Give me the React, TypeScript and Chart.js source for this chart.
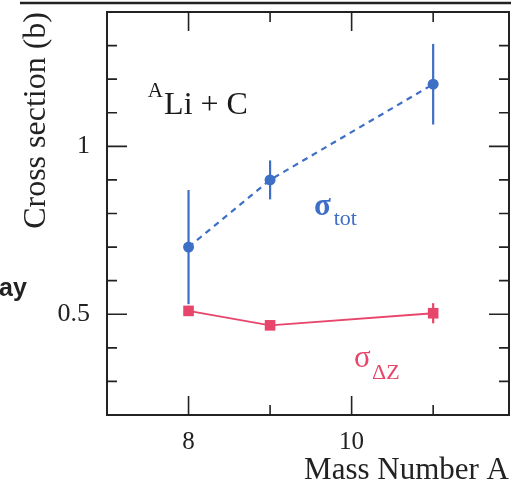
import React, { useEffect, useRef } from 'react';
import { Chart, registerables } from 'chart.js';

Chart.register(...registerables);

// ---- data ----
const massNumbers = [8, 9, 11];
const sigmaTot = [0.7, 0.9, 1.185];
const sigmaTotErr = [0.17, 0.058, 0.12];
const sigmaDZ = [0.51, 0.467, 0.503];
const sigmaDZErr = [0.015, 0.012, 0.03];
const xTickLabels = [8, 10];
const xMinorTicks = [9, 11];
const yTickLabels = [0.5, 1];
const yMinorTicks = [0.3, 0.4, 0.6, 0.7, 0.8, 0.9, 1.1, 1.2, 1.3];

const BLUE = '#3d6fc6';
const RED = '#e8456a';
const INK = '#222222';
const SERIF = '"Liberation Serif", "DejaVu Serif", serif';

const framePlugin = {
  id: 'frameAndTicks',
  afterDraw(chart: any) {
    const { ctx, chartArea: a, scales } = chart;
    const xs = scales.x;
    const ys = scales.y;
    ctx.save();
    ctx.strokeStyle = INK;
    ctx.lineWidth = 2;
    ctx.strokeRect(a.left, a.top, a.right - a.left, a.bottom - a.top);
    ctx.lineWidth = 1.6;
    const vt = (v: number, len: number) => {
      const px = xs.getPixelForValue(v);
      ctx.beginPath();
      ctx.moveTo(px, a.bottom);
      ctx.lineTo(px, a.bottom - len);
      ctx.moveTo(px, a.top);
      ctx.lineTo(px, a.top + len);
      ctx.stroke();
    };
    const ht = (v: number, len: number) => {
      const py = ys.getPixelForValue(v);
      ctx.beginPath();
      ctx.moveTo(a.left, py);
      ctx.lineTo(a.left + len, py);
      ctx.moveTo(a.right, py);
      ctx.lineTo(a.right - len, py);
      ctx.stroke();
    };
    xTickLabels.forEach((v) => vt(v, 19));
    xMinorTicks.forEach((v) => vt(v, 10));
    yTickLabels.forEach((v) => ht(v, 20));
    yMinorTicks.forEach((v) => ht(v, 10));

    // scan artifacts: top rule and fragment of neighbouring text
    ctx.lineWidth = 2.5;
    ctx.beginPath();
    ctx.moveTo(20, a.top - 9);
    ctx.lineTo(a.right + 2, a.top - 9);
    ctx.stroke();
    ctx.fillStyle = INK;
    ctx.font = 'bold 25px "Liberation Sans", Arial, sans-serif';
    ctx.textBaseline = 'alphabetic';
    ctx.textAlign = 'left';
    ctx.fillText('ay', -1, ys.getPixelForValue(0.555));

    // annotations
    const X = (v: number) => xs.getPixelForValue(v);
    const Y = (v: number) => ys.getPixelForValue(v);
    ctx.fillStyle = '#1a1a1a';
    ctx.font = `21px ${SERIF}`;
    ctx.fillText('A', X(7.5), Y(1.147));
    ctx.font = `32px ${SERIF}`;
    ctx.fillText('Li + C', X(7.7), Y(1.096));

    ctx.fillStyle = BLUE;
    ctx.font = `bold 31px ${SERIF}`;
    ctx.fillText('σ', X(9.54), Y(0.795));
    ctx.font = `22px ${SERIF}`;
    ctx.fillText('tot', X(9.78), Y(0.766));

    ctx.fillStyle = RED;
    ctx.font = `31px ${SERIF}`;
    ctx.fillText('σ', X(10.03), Y(0.343));
    ctx.font = `22px ${SERIF}`;
    ctx.fillText('ΔZ', X(10.25), Y(0.306));
    ctx.restore();
  },
};

const errorBarPlugin = {
  id: 'errorBars',
  beforeDatasetsDraw(chart: any) {
    const { ctx, scales } = chart;
    const xs = scales.x;
    const ys = scales.y;
    ctx.save();
    chart.data.datasets.forEach((ds: any) => {
      const errs: number[] = ds.errors || [];
      ctx.strokeStyle = ds.borderColor;
      ctx.lineWidth = 2.2;
      ds.data.forEach((p: any, i: number) => {
        const e = errs[i];
        if (!e) return;
        const px = xs.getPixelForValue(p.x);
        ctx.beginPath();
        ctx.moveTo(px, ys.getPixelForValue(p.y - e));
        ctx.lineTo(px, ys.getPixelForValue(p.y + e));
        ctx.stroke();
      });
    });
    ctx.restore();
  },
};

export default function App() {
  const ref = useRef<HTMLCanvasElement | null>(null);
  useEffect(() => {
    if (!ref.current) return;
    const chart = new Chart(ref.current, {
      type: 'line',
      data: {
        datasets: [
          {
            label: 'σtot',
            data: massNumbers.map((x, i) => ({ x, y: sigmaTot[i] })),
            errors: sigmaTotErr,
            borderColor: BLUE,
            backgroundColor: BLUE,
            borderWidth: 2.2,
            borderDash: [6, 5],
            pointStyle: 'circle',
            pointRadius: 5.5,
            pointBorderWidth: 0,
          } as any,
          {
            label: 'σΔZ',
            data: massNumbers.map((x, i) => ({ x, y: sigmaDZ[i] })),
            errors: sigmaDZErr,
            borderColor: RED,
            backgroundColor: RED,
            borderWidth: 1.8,
            pointStyle: 'rect',
            pointRadius: 7.5,
            pointBorderWidth: 0,
          } as any,
        ],
      },
      options: {
        animation: false,
        responsive: false,
        layout: { padding: { top: 12, right: 17, left: 0, bottom: 0 } },
        plugins: { legend: { display: false }, tooltip: { enabled: false } },
        scales: {
          x: {
            type: 'linear',
            min: 7,
            max: 11.93,
            grid: { display: false, drawTicks: false },
            border: { display: false },
            afterBuildTicks: (s: any) => {
              s.ticks = xTickLabels.map((v) => ({ value: v }));
            },
            afterFit: (s: any) => {
              s.height = 75;
              s.paddingLeft = 0;
              s.paddingRight = 0;
            },
            ticks: {
              color: INK,
              font: { family: SERIF, size: 25 },
              padding: 12,
              maxRotation: 0,
              autoSkip: false,
              callback: (v: any) => String(v),
            },
            title: {
              display: true,
              text: 'Mass Number A',
              align: 'end',
              color: INK,
              font: { family: SERIF, size: 31 },
              padding: { top: 0, bottom: 1 },
            },
          },
          y: {
            type: 'linear',
            min: 0.2,
            max: 1.4,
            grid: { display: false, drawTicks: false },
            border: { display: false },
            afterBuildTicks: (s: any) => {
              s.ticks = yTickLabels.map((v) => ({ value: v }));
            },
            afterFit: (s: any) => {
              s.width = 107;
              s.paddingTop = 0;
              s.paddingBottom = 0;
            },
            ticks: {
              color: INK,
              font: { family: SERIF, size: 26 },
              padding: 17,
              autoSkip: false,
              callback: (v: any) => String(v),
            },
            title: {
              display: true,
              text: 'Cross section (b)',
              align: 'end',
              color: INK,
              font: { family: SERIF, size: 32 },
              padding: { top: 17, bottom: 0 },
            },
          },
        },
      },
      plugins: [errorBarPlugin, framePlugin],
    } as any);
    return () => chart.destroy();
  }, []);
  return (
    <div style={{ position: 'absolute', left: 0, top: 0, width: 526, height: 490, background: '#fff' }}>
      <canvas ref={ref} width={526} height={490} />
    </div>
  );
}
